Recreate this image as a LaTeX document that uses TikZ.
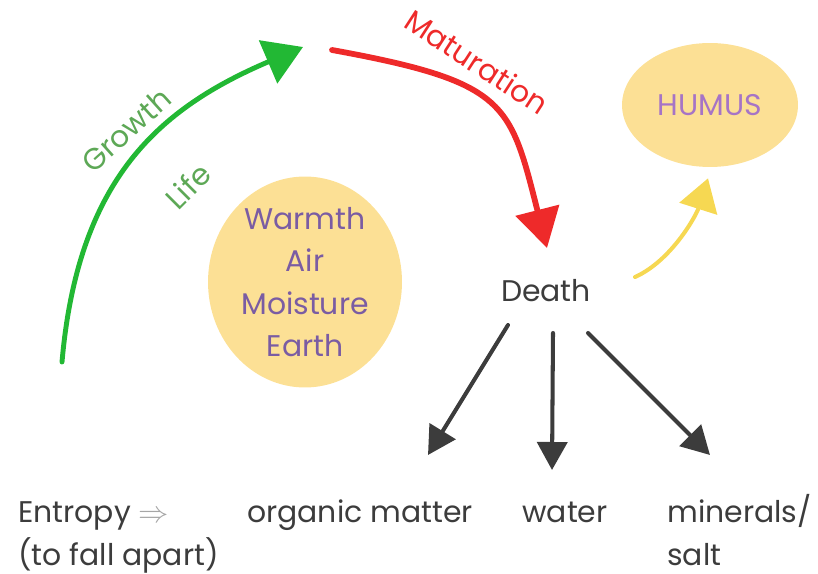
\documentclass[tikz,border=0pt]{standalone}
\usepackage{fontspec}
\setmainfont{Poppins}
\usetikzlibrary{arrows.meta, calc, shapes.geometric}

\definecolor{leafgreen}{HTML}{22B834}
\definecolor{labelgreen}{HTML}{5DA856}
\definecolor{ripered}{HTML}{EE2A2A}
\definecolor{blobyellow}{HTML}{FCE095}
\definecolor{arrowyellow}{HTML}{F6D852}
\definecolor{plum}{HTML}{7A5CA3}
\definecolor{humusplum}{HTML}{A674C6}
\definecolor{ink}{HTML}{3C3C3C}

\begin{document}
\begin{tikzpicture}[x=0.02cm, y=-0.02cm,
    hand/.style={font=\fontsize{17}{24}\selectfont},
    blob/.style={ellipse, fill=blobyellow, inner sep=0pt, hand},
    item/.style={hand, text=ink, inner sep=0pt, anchor=north west, align=left},
    fate/.style={ink, line width=2.3pt, line cap=round,
        -{Triangle[length=0.56cm, width=0.6cm]}}]

    \useasboundingbox (0,0) rectangle (818,574);

    % ==========================================
    % 1. ELLIPSES
    % ==========================================
    \node[blob, minimum width=3.88cm, minimum height=4.22cm, text=plum, align=center]
        (elements) at (305,282) {Warmth\\Air\\Moisture\\Earth};
    \node[blob, minimum width=3.52cm, minimum height=2.48cm, text=humusplum]
        (humus) at (710,105) {HUMUS};

    \node[hand, text=ink] (death) at (546,291) {Death};

    % ==========================================
    % 2. LIFE CYCLE ARCS
    % ==========================================
    \coordinate (seed) at (62,362);
    \coordinate (peak) at (303,47);
    \coordinate (ripe) at (332,50);

    \draw[leafgreen, line width=2.8pt, line cap=round,
        -{Triangle[length=0.76cm, width=0.92cm]}]
        (seed) .. controls (78,178) and (160,108) .. (peak);
    \draw[ripered, line width=3.3pt, line cap=round,
        -{Triangle[length=0.78cm, width=0.88cm]}]
        (ripe) .. controls (508,82) and (510,103) .. ($(death)+(1,-43)$);
    \draw[arrowyellow, line width=2.3pt, line cap=round,
        -{Triangle[length=0.64cm, width=0.78cm]}]
        ($(death)+(89,-14)$) .. controls (671,261) and (696,216) .. ($(humus.south)+(-2,11)$);

    \node[hand, text=labelgreen, rotate=42] (growth) at (126,130) {Growth};
    \node[hand, text=labelgreen, rotate=45] (life) at (188,186) {Life};
    \node[hand, text=ripered, rotate=-33] (maturation) at (477,62) {Maturation};

    % ==========================================
    % 3. DECAY PRODUCTS
    % ==========================================
    \coordinate (organictip) at (428,455);
    \coordinate (watertip) at (552,470);
    \coordinate (mineraltip) at (710,455);

    \draw[fate] ($(death)+(-38,34)$) -- (organictip);
    \draw[fate] ($(death)+(7,42)$) -- (watertip);
    \draw[fate] ($(death)+(42,42)$) -- (mineraltip);

    \node[item] (entropy) at (18,493) {\strut Entropy {\color{gray!70}$\Rightarrow$}\\(to fall apart)};
    \node[item] (organic) at (247,493) {\strut organic matter};
    \node[item] (water) at (522,493) {\strut water};
    \node[item] (minerals) at (667,493) {\strut minerals/\\salt};

\end{tikzpicture}
\end{document}
